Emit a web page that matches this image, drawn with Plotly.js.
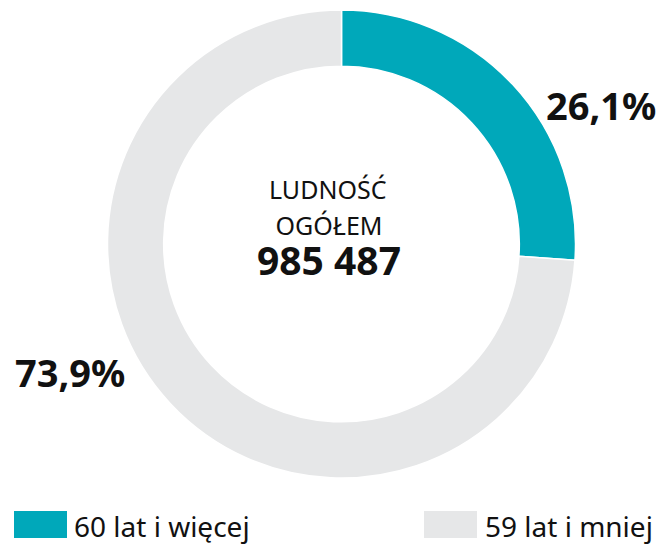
<!DOCTYPE html>
<html>
<head>
<meta charset="utf-8">
<script src="https://cdn.plot.ly/plotly-3.0.1.min.js"></script>
<style>html,body{margin:0;padding:0;background:#fff}#chart{width:662px;height:545px}</style>
</head>
<body>
<div id="chart"></div>
<script>
const labels = ["60 lat i więcej", "59 lat i mniej"];
const shares = [26.1, 73.9];
const colors = ["#00A8BA", "#E6E7E8"];
const centerTitle = ["LUDNOŚĆ", "OGÓŁEM"];
const totalPopulation = "985 487";

const FONT = "Noto Sans, sans-serif";
const fmt = v => v.toFixed(1).replace(".", ",") + "%";

const W = 662, H = 545;
const px = x => x / W;
const py = y => 1 - y / H;

const trace = {
  type: "pie",
  labels: labels,
  values: shares,
  sort: false,
  direction: "clockwise",
  rotation: 0,
  hole: 0.76,
  textinfo: "none",
  hoverinfo: "label+percent",
  marker: { colors: colors, line: { color: "#ffffff", width: 1.5 } },
  domain: { x: [px(107), px(576)], y: [py(478), py(10)] },
  showlegend: false
};

const ann = (text, x, y, size, xanchor, yanchor) => ({
  text: text, x: px(x), y: py(y), xref: "paper", yref: "paper",
  xanchor: xanchor || "center", yanchor: yanchor || "middle", borderpad: 0,
  showarrow: false, font: { family: FONT, size: size, color: "#111" }
});

const annotations = [
  ann(centerTitle[0], 328, 189, 25, "center", "middle"),
  ann("<span style='font-size:25px'>" + centerTitle[1] + "</span><br>" +
      "<span style='font-size:39px'><b>" + totalPopulation + "</b></span>", 329, 207, 31, "center", "top"),
  ann("<b>" + fmt(shares[0]) + "</b>", 601, 105, 38),
  ann("<b>" + fmt(shares[1]) + "</b>", 70, 372, 38),
  ann(labels[0], 73, 526, 28, "left"),
  ann(labels[1], 484, 526, 28, "left")
];

const shapes = [
  { type: "rect", xref: "paper", yref: "paper", x0: px(14), x1: px(67), y0: py(538), y1: py(511),
    fillcolor: colors[0], line: { width: 0 } },
  { type: "rect", xref: "paper", yref: "paper", x0: px(424), x1: px(477), y0: py(538), y1: py(511),
    fillcolor: colors[1], line: { width: 0 } }
];

const layout = {
  width: W, height: H,
  margin: { l: 0, r: 0, t: 0, b: 0 },
  paper_bgcolor: "#ffffff",
  showlegend: false,
  annotations: annotations,
  shapes: shapes
};

Plotly.newPlot("chart", [trace], layout, { displayModeBar: false, staticPlot: true });
</script>
</body>
</html>
